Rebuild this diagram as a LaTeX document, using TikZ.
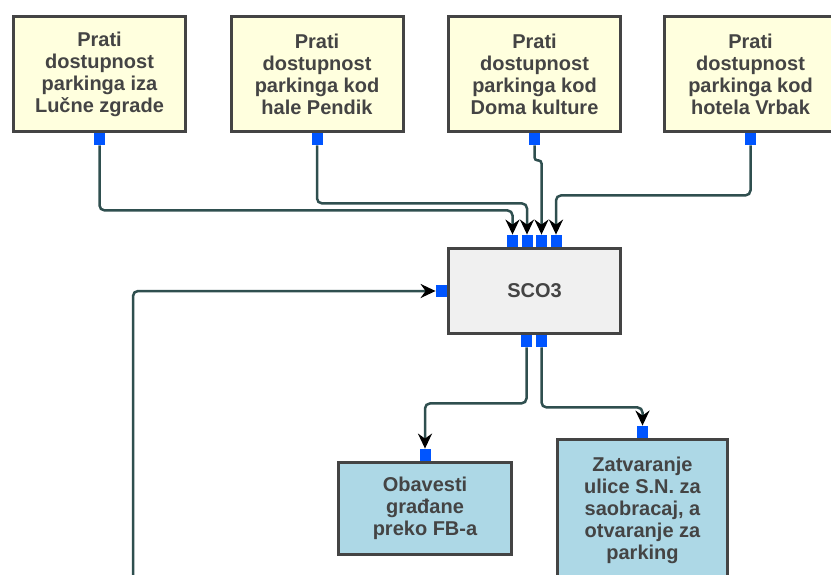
\documentclass[tikz,border=0pt]{standalone}
\usepackage{fontspec}
\setmainfont{Liberation Sans}
\usetikzlibrary{arrows.meta}

\begin{document}
\begin{tikzpicture}[x=1pt, y=-1pt,
    box/.style={rectangle, draw={rgb,255:red,68;green,68;blue,68}, text={rgb,255:red,68;green,68;blue,68}, line width=3pt, align=center, font=\fontsize{20}{22}\selectfont\bfseries, inner sep=0pt},
    taskbox/.style={box, fill={rgb,255:red,255;green,255;blue,222}, minimum width=172pt, minimum height=115pt},
    port/.style={rectangle, fill={rgb,255:red,0;green,85;blue,255}, inner sep=0pt, minimum width=11pt, minimum height=12pt},
    flow/.style={draw={rgb,255:red,47;green,79;blue,79}, line width=2.5pt, rounded corners=5pt, -{Stealth[color=black, length=15pt, width=14pt, inset=5pt]}}]

    \useasboundingbox (0,0) rectangle (831,574);
    \clip (0,0) rectangle (831,574);

    \node[taskbox] (ndTask1) at (99.5,74) {Prati\\dostupnost\\parkinga iza\\Lučne zgrade};
    \node[taskbox] (ndTask2) at (317,74) {Prati\\dostupnost\\parkinga kod\\hale Pendik};
    \node[taskbox] (ndTask3) at (534.5,74) {Prati\\dostupnost\\parkinga kod\\Doma kulture};
    \node[taskbox] (ndTask4) at (750.5,74) {Prati\\dostupnost\\parkinga kod\\hotela Vrbak};

    \node[box, fill={rgb,255:red,240;green,240;blue,240}, minimum width=172pt, minimum height=85pt] (ndSco) at (534.5,291) {SCO3};

    \node[box, fill={rgb,255:red,173;green,216;blue,230}, minimum width=173pt, minimum height=92pt] (ndNotify) at (425,508.5) {Obavesti\\građane\\preko FB-a};
    \node[box, fill={rgb,255:red,173;green,216;blue,230}, minimum width=170pt, minimum height=141pt] (ndClose) at (642.5,510) {Zatvaranje\\ulice S.N. za\\saobracaj, a\\otvaranje za\\parking};

    \node[port, anchor=north] (ndOut1) at (ndTask1.south) {};
    \node[port, anchor=north] (ndOut2) at (ndTask2.south) {};
    \node[port, anchor=north] (ndOut3) at (ndTask3.south) {};
    \node[port, anchor=north] (ndOut4) at (ndTask4.south) {};

    \node[port, anchor=south] (ndIn1) at ([xshift=-22pt]ndSco.north) {};
    \node[port, anchor=south] (ndIn2) at ([xshift=-7.5pt]ndSco.north) {};
    \node[port, anchor=south] (ndIn3) at ([xshift=7pt]ndSco.north) {};
    \node[port, anchor=south] (ndIn4) at ([xshift=21.5pt]ndSco.north) {};
    \node[port, anchor=east] (ndInLeft) at (ndSco.west) {};
    \node[port, anchor=north] (ndOutA) at ([xshift=-8pt]ndSco.south) {};
    \node[port, anchor=north] (ndOutB) at ([xshift=7pt]ndSco.south) {};

    \node[port, anchor=south] (ndInNotify) at (ndNotify.north) {};
    \node[port, anchor=south] (ndInClose) at (ndClose.north) {};

    \coordinate (ndFeed) at (133,600);

    \draw[flow] (ndOut1.south) -- ++(0,65) -| (ndIn1.north);
    \draw[flow] (ndOut2.south) -- ++(0,58) -| (ndIn2.north);
    \draw[flow, rounded corners=3pt] (ndOut3.south) -- ++(0,15) -| (ndIn3.north);
    \draw[flow] (ndOut4.south) -- ++(0,50) -| (ndIn4.north);
    \draw[flow] (ndFeed) |- (ndInLeft.west);
    \draw[flow] (ndOutA.south) -- ++(0,56) -| (ndInNotify.north);
    \draw[flow] (ndOutB.south) -- ++(0,60) -| (ndInClose.north);
\end{tikzpicture}
\end{document}
